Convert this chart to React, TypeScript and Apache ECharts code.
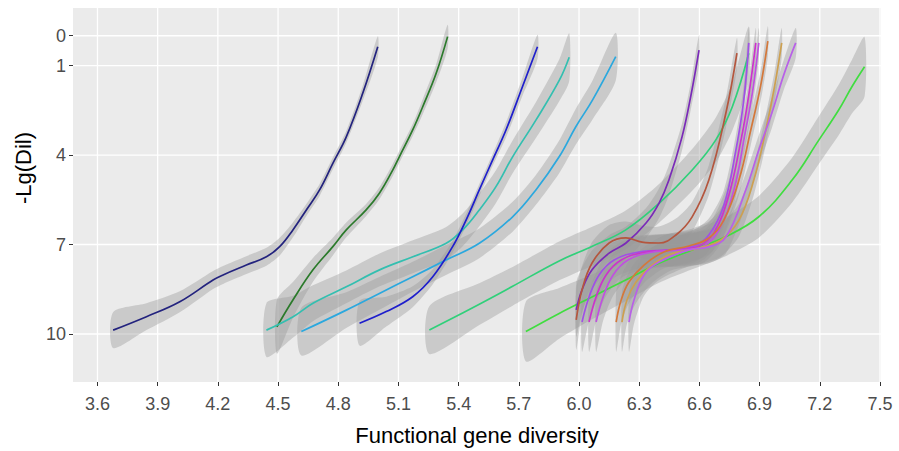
import React, { useEffect, useRef } from "react";
import * as echarts from "echarts";

// ---- axis ticks ----
const xTicks = [3.6, 3.9, 4.2, 4.5, 4.8, 5.1, 5.4, 5.7, 6.0, 6.3, 6.6, 6.9, 7.2, 7.5];
const yTicks = [0, 1, 4, 7, 10];

// ---- curves: x, fitted -Lg(Dil), half-width of confidence band ----
const navyX = [3.678, 3.844, 4.01, 4.176, 4.226, 4.342, 4.442, 4.508, 4.574, 4.641, 4.707, 4.773, 4.84, 4.922, 4.997];
const navyY = [9.87, 9.42, 8.92, 8.19, 8.02, 7.69, 7.41, 7.07, 6.51, 5.84, 5.17, 4.28, 3.39, 1.93, 0.37];
const navyW = [0.6, 0.45, 0.35, 0.3, 0.3, 0.3, 0.3, 0.3, 0.25, 0.2, 0.2, 0.2, 0.2, 0.25, 0.35];

const dkGreenX = [4.494, 4.574, 4.674, 4.773, 4.84, 4.939, 5.005, 5.072, 5.105, 5.171, 5.221, 5.288, 5.345];
const dkGreenY = [9.76, 8.86, 7.85, 7.07, 6.51, 5.84, 5.28, 4.5, 4.05, 3.16, 2.38, 1.26, 0.03];
const dkGreenW = [0.9, 0.6, 0.4, 0.3, 0.25, 0.2, 0.2, 0.2, 0.2, 0.2, 0.25, 0.3, 0.4];

const tealX = [4.442, 4.575, 4.674, 4.84, 5.006, 5.172, 5.338, 5.42, 5.503, 5.586, 5.669, 5.785, 5.902, 5.951];
const tealY = [9.87, 9.42, 8.97, 8.42, 7.85, 7.41, 6.96, 6.51, 5.84, 5.06, 4.06, 2.83, 1.49, 0.72];
const tealW = [0.9, 0.7, 0.6, 0.55, 0.55, 0.55, 0.55, 0.55, 0.55, 0.55, 0.55, 0.6, 0.7, 0.8];

const skyX = [4.616, 4.84, 5.005, 5.171, 5.337, 5.503, 5.669, 5.785, 5.901, 5.984, 6.067, 6.183];
const skyY = [9.92, 9.2, 8.64, 8.08, 7.52, 6.96, 6.07, 5.17, 4.06, 3.05, 2.16, 0.7];
const skyW = [0.8, 0.6, 0.55, 0.5, 0.5, 0.5, 0.5, 0.5, 0.55, 0.6, 0.65, 0.8];

const blueX = [4.906, 5.039, 5.171, 5.271, 5.37, 5.437, 5.503, 5.569, 5.636, 5.718, 5.793];
const blueY = [9.64, 9.25, 8.75, 8.08, 7.07, 6.18, 5.17, 4.17, 3.16, 1.71, 0.37];
const blueW = [0.75, 0.5, 0.35, 0.25, 0.2, 0.2, 0.2, 0.2, 0.25, 0.3, 0.4];

const mdGreenX = [5.254, 5.503, 5.669, 5.901, 6.069, 6.233, 6.399, 6.564, 6.681, 6.764, 6.846];
const mdGreenY = [9.87, 9.0, 8.4, 7.55, 7.05, 6.51, 5.62, 4.5, 3.5, 2.38, 0.59];
const mdGreenW = [0.8, 0.7, 0.65, 0.65, 0.65, 0.65, 0.65, 0.7, 0.75, 0.8, 0.9];

const ltGreenX = [5.735, 5.901, 6.067, 6.233, 6.399, 6.564, 6.73, 6.896, 7.062, 7.195, 7.294, 7.36, 7.423];
const ltGreenY = [9.92, 9.31, 8.75, 8.19, 7.63, 7.18, 6.74, 6.07, 4.84, 3.5, 2.49, 1.71, 1.04];
const ltGreenW = [1.0, 0.85, 0.75, 0.7, 0.65, 0.65, 0.65, 0.7, 0.75, 0.8, 0.85, 0.9, 1.0];

const purpleX = [5.986, 6.015, 6.065, 6.15, 6.234, 6.334, 6.399, 6.448, 6.513, 6.558, 6.598];
const purpleY = [9.19, 8.52, 7.85, 7.29, 6.95, 6.28, 5.61, 4.84, 3.4, 1.99, 0.48];
const purpleW = [0.9, 0.75, 0.65, 0.6, 0.55, 0.5, 0.5, 0.5, 0.45, 0.45, 0.5];

const brownX = [5.986, 6.015, 6.065, 6.15, 6.234, 6.314, 6.398, 6.483, 6.563, 6.647, 6.732, 6.787];
const brownY = [9.53, 8.52, 7.62, 6.95, 6.78, 6.92, 6.95, 6.68, 6.08, 4.84, 2.59, 0.58];
const brownW = [1.0, 0.8, 0.7, 0.6, 0.55, 0.55, 0.55, 0.55, 0.5, 0.5, 0.5, 0.5];

const violetAX = [6.015, 6.05, 6.1, 6.175, 6.299, 6.448, 6.573, 6.647, 6.722, 6.782, 6.821, 6.846];
const violetAY = [9.6, 8.76, 8.02, 7.52, 7.25, 7.18, 7.05, 6.68, 5.68, 3.83, 2.16, 0.24];
const violetAW = [1.0, 0.8, 0.7, 0.6, 0.55, 0.55, 0.55, 0.55, 0.5, 0.5, 0.5, 0.5];

const magentaX = [6.05, 6.085, 6.135, 6.21, 6.334, 6.483, 6.598, 6.672, 6.747, 6.807, 6.846, 6.881];
const magentaY = [9.6, 8.76, 8.02, 7.52, 7.25, 7.18, 7.05, 6.61, 5.34, 3.5, 1.99, 0.24];
const magentaW = [1.0, 0.8, 0.7, 0.6, 0.55, 0.55, 0.55, 0.55, 0.5, 0.5, 0.5, 0.5];

const violetBX = [6.085, 6.12, 6.17, 6.244, 6.369, 6.518, 6.622, 6.697, 6.772, 6.826, 6.866, 6.896];
const violetBY = [9.6, 8.76, 8.02, 7.52, 7.25, 7.18, 7.05, 6.51, 5.17, 3.33, 1.82, 0.24];
const violetBW = [1.0, 0.8, 0.7, 0.6, 0.55, 0.55, 0.55, 0.55, 0.5, 0.5, 0.5, 0.5];

const orangeX = [6.185, 6.21, 6.249, 6.324, 6.423, 6.548, 6.647, 6.722, 6.797, 6.856, 6.906, 6.941];
const orangeY = [9.6, 8.86, 8.26, 7.69, 7.25, 7.05, 6.78, 6.18, 4.84, 3.16, 1.65, 0.18];
const orangeW = [1.0, 0.8, 0.7, 0.6, 0.55, 0.55, 0.55, 0.55, 0.5, 0.5, 0.5, 0.5];

const tanX = [6.214, 6.239, 6.284, 6.359, 6.458, 6.598, 6.707, 6.797, 6.871, 6.931, 6.976, 7.01];
const tanY = [9.6, 8.86, 8.26, 7.72, 7.32, 7.12, 6.85, 6.18, 4.84, 3.16, 1.65, 0.24];
const tanW = [1.0, 0.8, 0.7, 0.6, 0.55, 0.55, 0.55, 0.55, 0.5, 0.5, 0.5, 0.5];

const violetCX = [6.249, 6.274, 6.324, 6.399, 6.548, 6.647, 6.732, 6.831, 6.896, 6.961, 7.02, 7.08];
const violetCY = [9.6, 8.86, 8.02, 7.59, 7.18, 7.08, 6.75, 5.17, 3.83, 2.59, 1.32, 0.24];
const violetCW = [1.0, 0.8, 0.7, 0.6, 0.55, 0.55, 0.55, 0.55, 0.5, 0.5, 0.5, 0.5];

const curves = [
  { name: "navy", color: "#23237E", x: navyX, y: navyY, w: navyW },
  { name: "darkgreen", color: "#2B7A2B", x: dkGreenX, y: dkGreenY, w: dkGreenW },
  { name: "teal", color: "#33BFB0", x: tealX, y: tealY, w: tealW },
  { name: "sky", color: "#2BA8DE", x: skyX, y: skyY, w: skyW },
  { name: "blue", color: "#1F1FCC", x: blueX, y: blueY, w: blueW },
  { name: "mdgreen", color: "#30D07A", x: mdGreenX, y: mdGreenY, w: mdGreenW },
  { name: "ltgreen", color: "#40DD40", x: ltGreenX, y: ltGreenY, w: ltGreenW },
  { name: "purple", color: "#7A2AB8", x: purpleX, y: purpleY, w: purpleW },
  { name: "brown", color: "#B4563E", x: brownX, y: brownY, w: brownW },
  { name: "violetA", color: "#A050E6", x: violetAX, y: violetAY, w: violetAW },
  { name: "magenta", color: "#CC33CC", x: magentaX, y: magentaY, w: magentaW },
  { name: "violetB", color: "#C050E0", x: violetBX, y: violetBY, w: violetBW },
  { name: "orange", color: "#D4783A", x: orangeX, y: orangeY, w: orangeW },
  { name: "tan", color: "#CDA050", x: tanX, y: tanY, w: tanW },
  { name: "violetC", color: "#B860E8", x: violetCX, y: violetCY, w: violetCW },
];

const X_MIN = 3.478;
const X_MAX = 7.505;
const Y_MIN = -0.93;
const Y_MAX = 11.61;
const FONT = "'Liberation Sans', Arial, sans-serif";

export default function App() {
  const ref = useRef<HTMLDivElement>(null);

  useEffect(() => {
    if (!ref.current) return;
    const chart = echarts.init(ref.current, undefined, { renderer: "svg" });

    const series: any[] = [];

    // grid lines
    series.push({
      type: "custom",
      name: "gridX",
      silent: true,
      z: 1,
      data: xTicks.map((v) => [v, 0]),
      renderItem: (params: any, api: any) => {
        const v = api.value(0);
        const p1 = api.coord([v, Y_MIN]);
        const p2 = api.coord([v, Y_MAX]);
        return {
          type: "line",
          shape: { x1: p1[0], y1: p1[1], x2: p2[0], y2: p2[1] },
          style: { stroke: "#FFFFFF", lineWidth: 1.3 },
        };
      },
    });
    series.push({
      type: "custom",
      name: "gridY",
      silent: true,
      z: 1,
      data: yTicks.map((v) => [4, v]),
      renderItem: (params: any, api: any) => {
        const v = api.value(1);
        const p1 = api.coord([X_MIN, v]);
        const p2 = api.coord([X_MAX, v]);
        return {
          type: "line",
          shape: { x1: p1[0], y1: p1[1], x2: p2[0], y2: p2[1] },
          style: { stroke: "#FFFFFF", lineWidth: 1.3 },
        };
      },
    });

    curves.forEach((c) => {
      series.push({
        type: "custom",
        name: c.name + "-band",
        silent: true,
        z: 2,
        clip: true,
        data: [[c.x[0], c.y[0]]],
        renderItem: (params: any, api: any) => {
          const upper = c.x.map((xv, i) => api.coord([xv, c.y[i] - c.w[i]]));
          const lower = c.x.map((xv, i) => api.coord([xv, c.y[i] + c.w[i]])).reverse();
          return {
            type: "polygon",
            shape: { points: upper.concat(lower), smooth: 0.25 },
            style: { fill: "rgba(153,153,153,0.4)", stroke: "none" },
          };
        },
      });
      series.push({
        type: "line",
        name: c.name,
        z: 2,
        data: c.x.map((xv, i) => [xv, c.y[i]]),
        showSymbol: false,
        symbol: "none",
        smooth: 0.4,
        lineStyle: { color: c.color, width: 1.7 },
        silent: true,
      });
    });

    chart.setOption({
      animation: false,
      grid: {
        left: 73,
        right: 18,
        top: 8,
        bottom: 69,
        show: true,
        backgroundColor: "#EBEBEB",
        borderWidth: 0,
        outerBoundsMode: "none",
      },
      xAxis: {
        type: "value",
        min: X_MIN,
        max: X_MAX,
        axisLine: { show: false, onZero: false },
        axisTick: { show: true, customValues: xTicks, length: 4, lineStyle: { color: "#333333" } },
        axisLabel: {
          customValues: xTicks,
          formatter: (v: number) => v.toFixed(1),
          fontSize: 18,
          color: "#4D4D4D",
          margin: 13,
          fontFamily: FONT,
        },
        splitLine: { show: false },
        name: "Functional gene diversity",
        nameLocation: "middle",
        nameGap: 42,
        nameTextStyle: { fontSize: 22, color: "#000000", fontFamily: FONT },
      },
      yAxis: {
        type: "value",
        inverse: true,
        min: Y_MIN,
        max: Y_MAX,
        axisLine: { show: false, onZero: false },
        axisTick: { show: true, customValues: yTicks, length: 4, lineStyle: { color: "#333333" } },
        axisLabel: {
          customValues: yTicks,
          fontSize: 18,
          color: "#4D4D4D",
          margin: 7,
          fontFamily: FONT,
        },
        splitLine: { show: false },
      },
      graphic: [
        {
          type: "text",
          x: 23,
          y: 168,
          rotation: Math.PI / 2,
          style: {
            text: "-Lg(Dil)",
            fontSize: 22,
            fill: "#000000",
            align: "center",
            verticalAlign: "middle",
            fontFamily: FONT,
          },
        },
      ],
      series,
    });

    return () => chart.dispose();
  }, []);

  return (
    <div
      ref={ref}
      style={{ position: "fixed", left: 0, top: 0, width: 899, height: 451, background: "#FFFFFF" }}
    />
  );
}
